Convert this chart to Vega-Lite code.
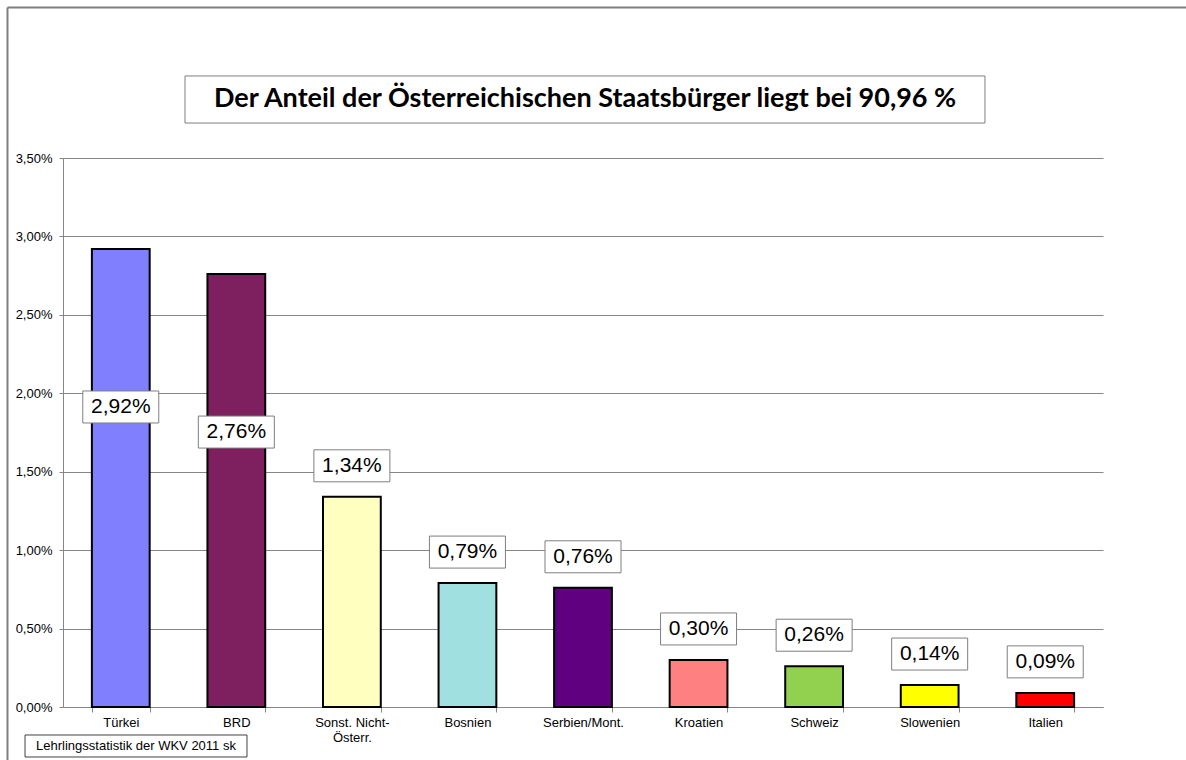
{
  "$schema": "https://vega.github.io/schema/vega-lite/v6.json",
  "width": 1040,
  "height": 549,
  "autosize": "none",
  "padding": {"left": 63, "top": 158, "right": 83, "bottom": 53},
  "background": "white",
  "config": {"view": {"stroke": null}, "font": "Liberation Sans"},
  "datasets": {
    "bars": [
      {"country": "Türkei", "value": 2.92, "label": "2,92%"},
      {"country": "BRD", "value": 2.76, "label": "2,76%"},
      {"country": "Sonst. Nicht-Österr.", "value": 1.34, "label": "1,34%"},
      {"country": "Bosnien", "value": 0.79, "label": "0,79%"},
      {"country": "Serbien/Mont.", "value": 0.76, "label": "0,76%"},
      {"country": "Kroatien", "value": 0.30, "label": "0,30%"},
      {"country": "Schweiz", "value": 0.26, "label": "0,26%"},
      {"country": "Slowenien", "value": 0.14, "label": "0,14%"},
      {"country": "Italien", "value": 0.09, "label": "0,09%"}
    ]
  },
  "layer": [
    {
      "data": {"name": "bars"},
      "encoding": {
        "x": {
          "field": "country",
          "type": "nominal",
          "sort": null,
          "scale": {
            "domain": ["Türkei", "BRD", "Sonst. Nicht-Österr.", "Bosnien", "Serbien/Mont.", "Kroatien", "Schweiz", "Slowenien", "Italien"],
            "paddingInner": 0.5,
            "paddingOuter": 0.25
          },
          "axis": {
            "title": null,
            "labelAngle": 0,
            "tickBand": "extent",
            "grid": false,
            "labelFont": "Liberation Sans",
            "labelFontSize": 13,
            "labelColor": "black",
            "domainColor": "#868686",
            "tickColor": "#868686",
            "tickSize": 5,
            "labelPadding": 4,
            "labelLineHeight": 15,
            "labelExpr": "datum.value == 'Sonst. Nicht-Österr.' ? ['Sonst. Nicht-', 'Österr.'] : datum.value"
          }
        },
        "y": {
          "field": "value",
          "type": "quantitative",
          "scale": {"domain": [0, 3.5], "nice": false},
          "axis": {
            "title": null,
            "values": [0, 0.5, 1, 1.5, 2, 2.5, 3, 3.5],
            "labelExpr": "replace(format(datum.value, '.2f'), '.', ',') + '%'",
            "grid": true,
            "gridColor": "#868686",
            "domainColor": "#868686",
            "tickColor": "#868686",
            "tickSize": 4,
            "labelPadding": 7,
            "labelFont": "Liberation Sans",
            "labelFontSize": 13,
            "labelColor": "black"
          }
        }
      },
      "layer": [
        {
          "mark": {"type": "bar", "stroke": "black", "strokeWidth": 2},
          "encoding": {
            "color": {
              "field": "country",
              "type": "nominal",
              "legend": null,
              "scale": {
                "domain": ["Türkei", "BRD", "Sonst. Nicht-Österr.", "Bosnien", "Serbien/Mont.", "Kroatien", "Schweiz", "Slowenien", "Italien"],
                "range": ["#8080FF", "#7E2060", "#FFFFC0", "#A0E0E0", "#600080", "#FF8080", "#92D050", "#FFFF00", "#FF0000"]
              }
            }
          }
        },
        {
          "transform": [{"filter": "datum.value <= 2"}],
          "mark": {"type": "bar", "width": 76, "fill": "white", "stroke": "#7f7f7f", "strokeWidth": 1, "yOffset": -47, "y2Offset": -15},
          "encoding": {"y2": {"field": "value"}}
        },
        {
          "transform": [{"filter": "datum.value > 2"}],
          "mark": {"type": "bar", "width": 76, "fill": "white", "stroke": "#7f7f7f", "strokeWidth": 1, "yOffset": 142, "y2Offset": 174},
          "encoding": {"y2": {"field": "value"}}
        },
        {
          "transform": [{"filter": "datum.value <= 2"}],
          "mark": {"type": "text", "font": "Liberation Sans", "fontSize": 21, "dy": -31, "baseline": "middle", "align": "center", "color": "black"},
          "encoding": {"text": {"field": "label"}}
        },
        {
          "transform": [{"filter": "datum.value > 2"}],
          "mark": {"type": "text", "font": "Liberation Sans", "fontSize": 21, "dy": 158, "baseline": "middle", "align": "center", "color": "black"},
          "encoding": {"text": {"field": "label"}}
        }
      ]
    },
    {
      "data": {"values": [{}]},
      "layer": [
        {
          "mark": {"type": "rule", "stroke": "#7f7f7f", "strokeWidth": 2},
          "encoding": {
            "x": {"datum": -0.05337, "type": "quantitative", "scale": {"domain": [0, 1], "nice": false}, "axis": null},
            "y": {"datum": 4.4595, "type": "quantitative", "scale": {"domain": [0, 3.5], "nice": false}, "axis": null},
            "y2": {"datum": -0.5}
          }
        },
        {
          "mark": {"type": "rule", "stroke": "#7f7f7f", "strokeWidth": 2},
          "encoding": {
            "x": {"datum": -0.05337, "type": "quantitative", "scale": {"domain": [0, 1], "nice": false}, "axis": null},
            "x2": {"datum": 1.1},
            "y": {"datum": 4.4595, "type": "quantitative", "scale": {"domain": [0, 3.5], "nice": false}, "axis": null}
          }
        },
        {
          "mark": {"type": "rect", "fill": "white", "stroke": "#7f7f7f", "strokeWidth": 1},
          "encoding": {
            "x": {"datum": 0.1173, "type": "quantitative", "scale": {"domain": [0, 1], "nice": false}, "axis": null},
            "x2": {"datum": 0.8865},
            "y": {"datum": 4.023, "type": "quantitative", "scale": {"domain": [0, 3.5], "nice": false}, "axis": null},
            "y2": {"datum": 3.723}
          }
        },
        {
          "mark": {"type": "text", "font": "Lato", "fontWeight": "bold", "fontSize": 27, "align": "center", "baseline": "middle", "color": "black"},
          "encoding": {
            "x": {"datum": 0.502, "type": "quantitative", "scale": {"domain": [0, 1], "nice": false}, "axis": null},
            "y": {"datum": 3.873, "type": "quantitative", "scale": {"domain": [0, 3.5], "nice": false}, "axis": null},
            "text": {"value": "Der Anteil der Österreichischen Staatsbürger liegt bei 90,96 %"}
          }
        },
        {
          "mark": {"type": "rect", "fill": "white", "stroke": "#404040", "strokeWidth": 1},
          "encoding": {
            "x": {"datum": -0.0365, "type": "quantitative", "scale": {"domain": [0, 1], "nice": false}, "axis": null},
            "x2": {"datum": 0.1769},
            "y": {"datum": -0.1785, "type": "quantitative", "scale": {"domain": [0, 3.5], "nice": false}, "axis": null},
            "y2": {"datum": -0.3187}
          }
        },
        {
          "mark": {"type": "text", "font": "Liberation Sans", "fontSize": 13, "align": "center", "baseline": "middle", "color": "black"},
          "encoding": {
            "x": {"datum": 0.0702, "type": "quantitative", "scale": {"domain": [0, 1], "nice": false}, "axis": null},
            "y": {"datum": -0.2486, "type": "quantitative", "scale": {"domain": [0, 3.5], "nice": false}, "axis": null},
            "text": {"value": "Lehrlingsstatistik der WKV 2011 sk"}
          }
        }
      ]
    }
  ],
  "resolve": {"scale": {"x": "independent"}, "axis": {"y": "independent"}}
}
